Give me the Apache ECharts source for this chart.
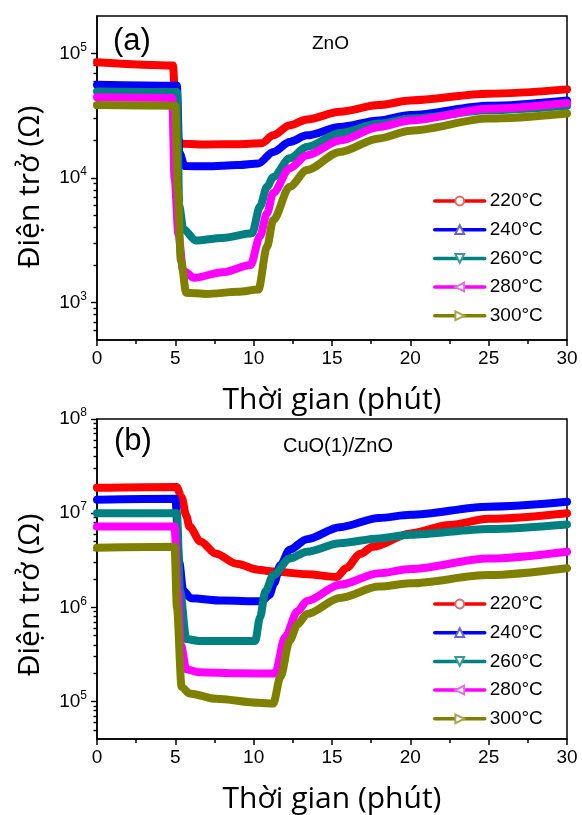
<!DOCTYPE html>
<html>
<head>
<meta charset="utf-8">
<script src="https://cdn.jsdelivr.net/npm/echarts@6/dist/echarts.min.js"></script>
<style>html,body{margin:0;padding:0;background:#fff}#c{width:582px;height:815px}</style>
</head>
<body>
<div id="c"></div>
<script>
// ---- data (time in minutes, resistance in ohm) ----
var seriesNames = ['220°C', '240°C', '260°C', '280°C', '300°C'];
var xTicks = [0, 5, 10, 15, 20, 25, 30];
var yTicksA = [1e3, 1e4, 1e5];
var yTicksB = [1e5, 1e6, 1e7, 1e8];

// Panel (a) ZnO
var zno220 = [[0, 8.5e4], [4.85, 8.0e4], [5.0, 4.0e4], [5.1, 2.0e4], [5.5, 1.88e4], [7, 1.86e4], [9, 1.87e4], [10.5, 1.9e4], [11.25, 2.2e4], [12.3, 2.65e4], [13.4, 2.95e4], [15.5, 3.4e4], [18, 3.85e4], [20, 4.2e4], [25, 4.75e4], [30, 5.15e4]];
var zno240 = [[0, 5.6e4], [5.1, 5.5e4], [5.25, 1.6e4], [5.6, 1.25e4], [7, 1.24e4], [9, 1.27e4], [10.3, 1.31e4], [11.25, 1.62e4], [12.3, 1.95e4], [13.4, 2.2e4], [15.5, 2.57e4], [18, 2.9e4], [20, 3.2e4], [25, 3.8e4], [30, 4.2e4]];
var zno260 = [[0, 4.95e4], [5.1, 4.9e4], [5.25, 6.0e3], [5.5, 3.9e3], [6.3, 3.15e3], [8, 3.3e3], [9.9, 3.6e3], [10.4, 5.9e3], [10.85, 8.5e3], [11.25, 1.02e4], [12.3, 1.44e4], [13.4, 1.78e4], [15.5, 2.3e4], [18, 2.74e4], [20, 3.0e4], [25, 3.5e4], [30, 3.8e4]];
var zno280 = [[0, 4.45e4], [4.8, 4.4e4], [4.95, 1.0e4], [5.2, 3.5e3], [5.5, 1.8e3], [6.2, 1.58e3], [8, 1.75e3], [9.8, 2.0e3], [10.4, 3.4e3], [10.85, 5.2e3], [11.25, 7.6e3], [12.3, 1.2e4], [13.4, 1.52e4], [15.5, 2.0e4], [18, 2.57e4], [20, 2.9e4], [25, 3.6e4], [30, 4.0e4]];
var zno300 = [[0, 3.85e4], [5.0, 3.8e4], [5.15, 8.0e3], [5.35, 2.2e3], [5.7, 1.2e3], [7, 1.17e3], [9, 1.22e3], [10.3, 1.27e3], [10.85, 2.8e3], [11.25, 4.6e3], [12.3, 8.5e3], [13.4, 1.16e4], [15.5, 1.62e4], [18, 2.08e4], [20, 2.4e4], [25, 3.0e4], [30, 3.3e4]];

// Panel (b) CuO(1)/ZnO
var cuo220 = [[0, 1.86e7], [5.08, 1.9e7], [5.4, 1.48e7], [5.7, 9.4e6], [5.9, 7.2e6], [6.6, 5.0e6], [7.6, 3.7e6], [8.9, 2.9e6], [10.3, 2.5e6], [11.25, 2.4e6], [13.4, 2.25e6], [15.3, 2.1e6], [15.9, 2.6e6], [16.8, 3.7e6], [17.6, 4.4e6], [20, 6.1e6], [22.5, 7.5e6], [25, 8.7e6], [30, 1.0e7]];
var cuo240 = [[0, 1.39e7], [5.0, 1.42e7], [5.25, 3.0e6], [5.5, 1.5e6], [6, 1.25e6], [8, 1.18e6], [10.5, 1.16e6], [11.0, 1.35e6], [11.3, 1.8e6], [11.7, 2.8e6], [12.3, 4.1e6], [13.4, 5.3e6], [15.5, 7.1e6], [18, 8.9e6], [20, 9.6e6], [25, 1.17e7], [30, 1.32e7]];
var cuo260 = [[0, 1.0e7], [5.1, 1.0e7], [5.3, 1.5e6], [5.7, 4.6e5], [6.5, 4.4e5], [8, 4.4e5], [10.1, 4.4e5], [10.4, 7.8e5], [10.75, 1.48e6], [11.25, 2.2e6], [12.3, 3.3e6], [13.4, 3.9e6], [15.5, 4.8e6], [18, 5.4e6], [20, 5.9e6], [25, 6.8e6], [30, 7.6e6]];
var cuo280 = [[0, 7.2e6], [4.95, 7.2e6], [5.15, 1.5e6], [5.35, 4.0e5], [5.7, 2.2e5], [6.5, 2.05e5], [9, 2.0e5], [11.36, 1.98e5], [12.0, 4.8e5], [12.8, 9.1e5], [13.4, 1.17e6], [15.5, 1.74e6], [18, 2.3e6], [20, 2.55e6], [25, 3.3e6], [30, 3.9e6]];
var cuo300 = [[0, 4.3e6], [4.95, 4.4e6], [5.1, 1.0e6], [5.4, 1.43e5], [5.9, 1.22e5], [7.6, 1.07e5], [10.3, 9.7e4], [11.25, 9.5e4], [11.7, 1.8e5], [12.3, 4.45e5], [12.8, 6.6e5], [13.4, 8.5e5], [15.5, 1.26e6], [18, 1.66e6], [20, 1.8e6], [25, 2.2e6], [30, 2.6e6]];

// ---- styles ----
var lineColors = ['#ff0000', '#0000ff', '#008080', '#ff00ff', '#808000'];
var markColors = ['#e06666', '#6666cc', '#3d9999', '#e070e0', '#a6a650'];
var symbols = ['emptyCircle', 'emptyTriangle', 'emptyTriangle', 'emptyTriangle', 'emptyTriangle'];
var rotations = [0, 0, 180, 90, -90];
var FONT = 'Liberation Sans';
var TITLE_FONT = 'Open Sans';
var TICK_COLOR = '#000';

function minorList(lo, hi) {
  var out = [];
  for (var d = Math.pow(10, Math.floor(Math.log10(lo))); d < hi; d *= 10) {
    for (var k = 2; k <= 9; k++) {
      var v = d * k;
      if (v > lo && v < hi) out.push(Math.log10(v));
    }
  }
  return out;
}

function powLabel(v) {
  var e = Math.round(Math.log10(v));
  return '{b|10}{s|' + e + '}';
}

function xAxisOpt(gi) {
  return {
    type: 'value', gridIndex: gi, min: 0, max: 30, interval: 5,
    name: 'Thời gian (phút)', nameLocation: 'middle', nameGap: 45,
    nameTextStyle: { fontFamily: TITLE_FONT, fontSize: 30, color: '#000' },
    axisLine: { lineStyle: { color: '#000', width: 1.5 } },
    axisTick: { show: true, inside: false, length: 6, lineStyle: { color: TICK_COLOR, width: 1.5 } },
    minorTick: { show: true, splitNumber: 2, length: 4, lineStyle: { color: TICK_COLOR, width: 1.5 } },
    axisLabel: { fontFamily: FONT, fontSize: 19, color: '#000', margin: 9, customValues: xTicks },
    splitLine: { show: false }
  };
}

function yAxisOpt(gi, mn, mx, ticks) {
  return {
    type: 'log', logBase: 10, gridIndex: gi, min: mn, max: mx,
    axisLine: { show: true, lineStyle: { color: '#000', width: 1.5 } },
    axisTick: { show: false },
    axisLabel: {
      customValues: ticks, margin: 10, formatter: powLabel,
      rich: {
        b: { fontFamily: FONT, fontSize: 19, color: '#000', lineHeight: 24 },
        s: { fontFamily: FONT, fontSize: 12, color: '#000', verticalAlign: 'top' }
      }
    },
    splitLine: { show: false }
  };
}

// tick-only helper axes on the decade (log10) scale of the same grid
function yTickAxis(gi, mn, mx, vals, len) {
  return {
    type: 'value', gridIndex: gi, min: Math.log10(mn), max: Math.log10(mx), position: 'left',
    axisLine: { show: false },
    axisTick: { show: true, inside: false, length: len, customValues: vals, lineStyle: { color: TICK_COLOR, width: 1.4 } },
    axisLabel: { show: false },
    splitLine: { show: false }
  };
}

function makeSeries(name, i, data, xi, yi) {
  return {
    name: name, type: 'line', xAxisIndex: xi, yAxisIndex: yi, data: data,
    symbol: symbols[i], symbolRotate: rotations[i], symbolSize: 9, showSymbol: false,
    smooth: 0.3, smoothMonotone: 'x',
    lineStyle: { color: lineColors[i], width: 8, join: 'round', cap: 'round' },
    itemStyle: { color: markColors[i] },
    emphasis: { disabled: true }, animation: false, z: 2 + i
  };
}

var dataA = [zno220, zno240, zno260, zno280, zno300];
var dataB = [cuo220, cuo240, cuo260, cuo280, cuo300];
var series = [];
seriesNames.forEach(function (n, i) { series.push(makeSeries(n, i, dataA[i], 0, 0)); });
seriesNames.forEach(function (n, i) { series.push(makeSeries(n, i, dataB[i], 1, 3)); });

function legendOpt(top) {
  return {
    orient: 'vertical', left: 433, top: top, padding: 0,
    itemWidth: 50, itemHeight: 11, itemGap: 8.7,
    selectedMode: false,
    lineStyle: { width: 3.5 },
    textStyle: { fontFamily: FONT, fontSize: 19, color: '#000', lineHeight: 20 },
    data: seriesNames
  };
}

function yTitle(cy) {
  return { type: 'text', x: 30, y: cy, rotation: Math.PI / 2,
    style: { text: 'Điện trở (Ω)', font: '30px "Open Sans"', fill: '#000', align: 'center', verticalAlign: 'middle' } };
}

var chart = echarts.init(document.getElementById('c'), null, { renderer: 'canvas' });
chart.setOption({
  animation: false,
  backgroundColor: '#fff',
  grid: [
    { left: 97, top: 16, width: 470, height: 324, show: true, borderColor: '#000', borderWidth: 1.5, backgroundColor: 'transparent' },
    { left: 97, top: 419, width: 470, height: 323, show: true, borderColor: '#000', borderWidth: 1.5, backgroundColor: 'transparent' }
  ],
  xAxis: [xAxisOpt(0), xAxisOpt(1)],
  yAxis: [
    yAxisOpt(0, 500, 2e5, yTicksA),
    yTickAxis(0, 500, 2e5, yTicksA.map(Math.log10), 6),
    yTickAxis(0, 500, 2e5, minorList(500, 2e5), 3.5),
    yAxisOpt(1, 4e4, 1e8, yTicksB),
    yTickAxis(1, 4e4, 1e8, yTicksB.map(Math.log10), 6),
    yTickAxis(1, 4e4, 1e8, minorList(4e4, 1e8), 3.5)
  ],
  legend: [legendOpt(191), legendOpt(594)],
  graphic: [
    yTitle(187),
    yTitle(595),
    { type: 'text', left: 113, top: 26, style: { text: '(a)', font: '31px "Liberation Sans"', fill: '#000' } },
    { type: 'text', left: 312, top: 34, style: { text: 'ZnO', font: '19px "Liberation Sans"', fill: '#000' } },
    { type: 'text', left: 114, top: 426, style: { text: '(b)', font: '31px "Liberation Sans"', fill: '#000' } },
    { type: 'text', left: 283, top: 436, style: { text: 'CuO(1)/ZnO', font: '20px "Liberation Sans"', fill: '#000' } }
  ],
  series: series
});
</script>
</body>
</html>
